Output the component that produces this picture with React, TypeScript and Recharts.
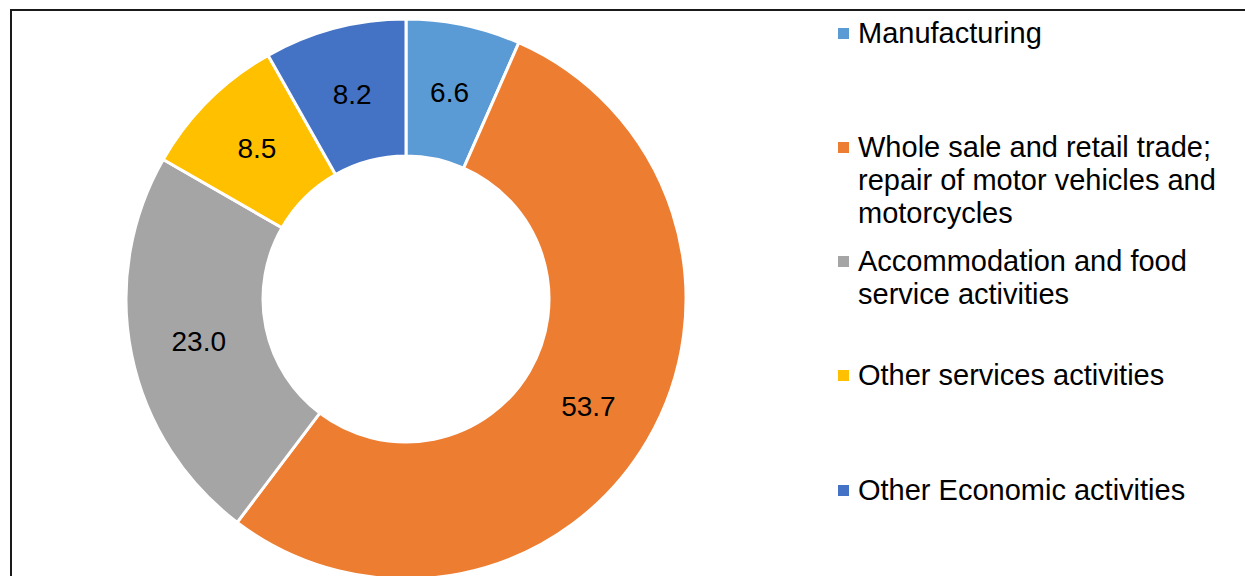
import React from "react";
import { PieChart, Pie, Cell, Legend } from "recharts";

const categories = [
  "Manufacturing",
  "Whole sale and retail trade; repair of motor vehicles and motorcycles",
  "Accommodation and food service activities",
  "Other services activities",
  "Other Economic activities",
];
const shares = [6.6, 53.7, 23.0, 8.5, 8.2];
const colors = ["#5B9BD5", "#ED7D31", "#A5A5A5", "#FFC000", "#4472C4"];

const data = categories.map((name, i) => ({ name, value: shares[i] }));

const FONT = "'Liberation Sans', Arial, sans-serif";
const RAD = Math.PI / 180;

function SliceLabel({ cx, cy, midAngle, innerRadius, outerRadius, value }: any) {
  const r = (innerRadius + outerRadius) / 2;
  const x = cx + r * Math.cos(-midAngle * RAD);
  const y = cy + r * Math.sin(-midAngle * RAD);
  return (
    <text
      x={x}
      y={y}
      fill="#000"
      fontSize={28}
      fontFamily={FONT}
      textAnchor="middle"
      dominantBaseline="central"
    >
      {Number(value).toFixed(1)}
    </text>
  );
}

function LegendList({ payload }: any) {
  // keep the data order (recharts sorts legend items by name otherwise)
  const items = [...(payload || [])].sort(
    (a: any, b: any) => categories.indexOf(a.value) - categories.indexOf(b.value)
  );
  return (
    <div style={{ fontFamily: FONT, fontSize: 29, lineHeight: "33px", color: "#000" }}>
      {items.map((item: any) => (
        <div key={item.value} style={{ display: "flex", height: 114.3 }}>
          {/* small square marker, centred on the first text line */}
          <span
            style={{
              width: 11,
              height: 11,
              marginTop: 11,
              marginRight: 9,
              flexShrink: 0,
              backgroundColor: item.color,
            }}
          />
          <div style={{ width: 375 }}>{item.value}</div>
        </div>
      ))}
    </div>
  );
}

export default function App() {
  return (
    <div
      style={{
        position: "fixed",
        left: 0,
        top: 0,
        width: 1245,
        height: 576,
        overflow: "hidden",
        background: "#fff",
      }}
    >
      {/* chart frame, cut off at right and bottom like the source */}
      <div
        style={{
          position: "absolute",
          left: 10,
          top: 9,
          width: 1400,
          height: 700,
          border: "2px solid #1a1a1a",
        }}
      />
      <div style={{ position: "absolute", left: 0, top: 0 }}>
        <PieChart width={1245} height={576} margin={{ top: 0, right: 0, bottom: 0, left: 0 }}>
          <Pie
            data={data}
            dataKey="value"
            nameKey="name"
            cx={406}
            cy={299}
            innerRadius={143}
            outerRadius={280}
            startAngle={90}
            endAngle={-270}
            stroke="#fff"
            strokeWidth={3}
            label={SliceLabel}
            labelLine={false}
            isAnimationActive={false}
          >
            {data.map((entry, i) => (
              <Cell key={entry.name} fill={colors[i]} />
            ))}
          </Pie>
          <Legend
            layout="vertical"
            align="right"
            verticalAlign="top"
            content={<LegendList />}
            wrapperStyle={{ left: 838, top: 16.5, right: "auto", width: 400 }}
          />
        </PieChart>
      </div>
    </div>
  );
}
